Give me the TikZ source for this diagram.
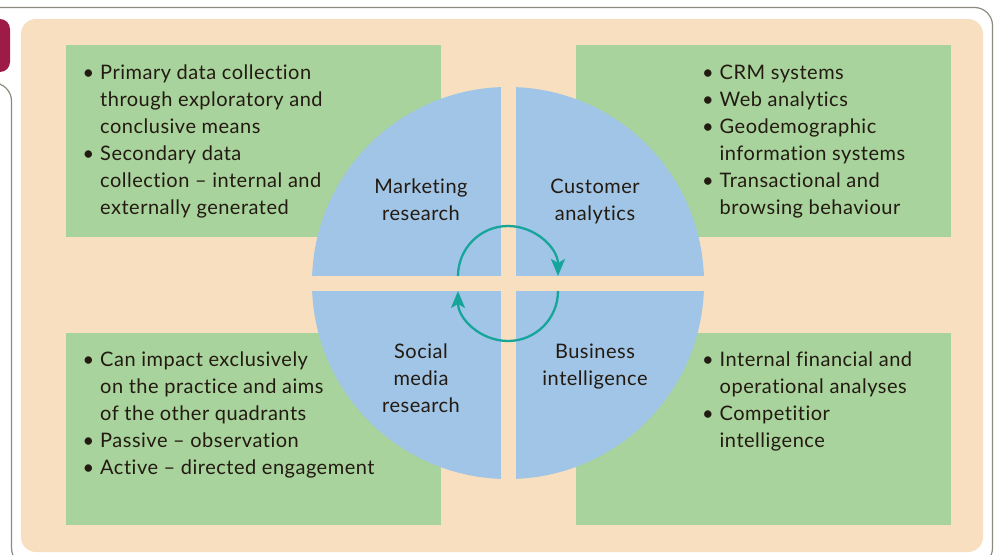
\documentclass[tikz,border=0pt]{standalone}
\usepackage{fontspec}
\setmainfont[LetterSpace=2.5, Ligatures=NoCommon]{Lato}
\usepackage{xcolor}
\usepackage{tikz}
\usetikzlibrary{arrows.meta, positioning, calc}

\definecolor{panel}{HTML}{F7DFC0}
\definecolor{leaf}{HTML}{A8D39C}
\definecolor{sky}{HTML}{A0C5E6}
\definecolor{cyclecol}{HTML}{17A59B}
\definecolor{framecol}{HTML}{8C8B7D}
\definecolor{tabcol}{HTML}{9E1B48}
\definecolor{ink}{HTML}{231A12}

\newcommand{\bul}{\makebox[17.5pt][l]{\textbullet}}
\newcommand{\ind}{\hspace*{17.5pt}}

\tikzstyle{greenbox} = [rectangle, fill=leaf, draw=none, inner sep=0pt, minimum width=375pt, minimum height=192pt]
\tikzstyle{listtext} = [anchor=base west, inner sep=0pt, text=ink, font=\fontsize{20}{27}\selectfont]
\tikzstyle{quarter} = [anchor=base, inner sep=0pt, text=ink, font=\fontsize{20}{27}\selectfont]
\tikzstyle{cyclearrow} = [line width=2.3pt, draw=cyclecol, -{Stealth[length=17pt,width=14pt,inset=4pt]}]

\begin{document}
\begin{tikzpicture}[x=1pt, y=-1pt]

\useasboundingbox (0,0) rectangle (995,554);

\draw [framecol, line width=1.2pt, rounded corners=18pt] (0,83) -- (11.5,83) -- (11.5,566) -- (992.5,566) -- (992.5,7.5) -- (-20,7.5);
\fill [tabcol, rounded corners=10pt] (-20,19) rectangle (10,72);
\fill [panel, rounded corners=15pt] (21,19) rectangle (983,552);

\node (tlbox) [greenbox] at (253.5,141) {};
\node (trbox) [greenbox] at (763.5,141) {};
\node (blbox) [greenbox] at (253.5,429) {};
\node (brbox) [greenbox] at (763.5,429) {};

\fill [sky] (508,283) circle [radius=196];
\fill [panel] (500.5,80) rectangle (516,490);
\fill [panel] (305,275.5) rectangle (712,291);

\draw [cyclearrow] (458,276) arc [start angle=180, end angle=360, radius=50];
\draw [cyclearrow] (558,291) arc [start angle=0, end angle=180, radius=50];

\node (research) [quarter] at (421,193) {\begin{tabular}[t]{@{}c@{}}Marketing\\research\end{tabular}};
\node (analytics) [quarter] at (595,193) {\begin{tabular}[t]{@{}c@{}}Customer\\analytics\end{tabular}};
\node (social) [quarter] at (421,358) {\begin{tabular}[t]{@{}c@{}}Social\\media\\research\end{tabular}};
\node (business) [quarter] at (595,358) {\begin{tabular}[t]{@{}c@{}}Business\\intelligence\end{tabular}};

\node (researchlist) [listtext] at (82.5,79) {\begin{tabular}[t]{@{}l@{}}
\bul Primary data collection\\
\ind through exploratory and\\
\ind conclusive means\\
\bul Secondary data\\
\ind collection -- internal and\\
\ind externally generated
\end{tabular}};

\node (analyticslist) [listtext] at (702,79) {\begin{tabular}[t]{@{}l@{}}
\bul CRM systems\\
\bul Web analytics\\
\bul Geodemographic\\
\ind information systems\\
\bul Transactional and\\
\ind browsing behaviour
\end{tabular}};

\node (sociallist) [listtext] at (82.5,366) {\begin{tabular}[t]{@{}l@{}}
\bul Can impact exclusively\\
\ind on the practice and aims\\
\ind of the other quadrants\\
\bul Passive -- observation\\
\bul Active -- directed engagement
\end{tabular}};

\node (businesslist) [listtext] at (702,366) {\begin{tabular}[t]{@{}l@{}}
\bul Internal financial and\\
\ind operational analyses\\
\bul Competitior\\
\ind intelligence
\end{tabular}};

\end{tikzpicture}
\end{document}
